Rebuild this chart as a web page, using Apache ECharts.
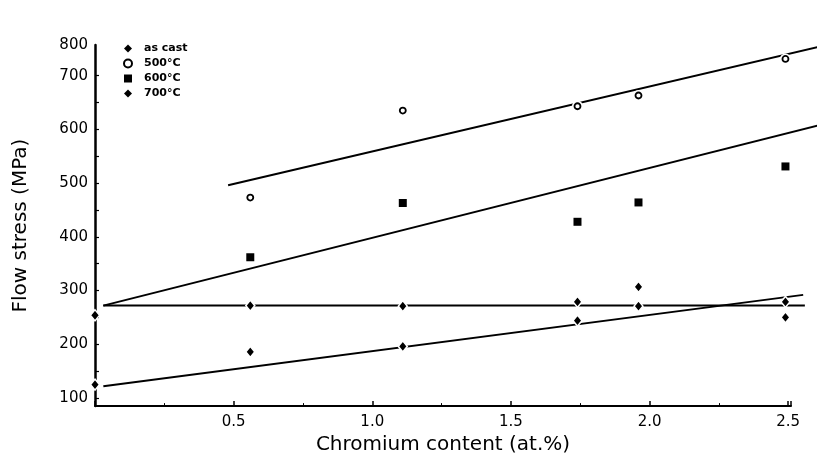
<!DOCTYPE html>
<html><head><meta charset="utf-8">
<script src="https://cdn.jsdelivr.net/npm/echarts@6/dist/echarts.min.js"></script>
<style>html,body{margin:0;padding:0;background:#fff}#c{width:817px;height:460px}</style>
</head><body><div id="c"></div>
<script>
// ---- data ----
const seriesNames = ['as cast', '500°C', '600°C', '700°C'];
const crAsCast = [0, 0.56, 1.11, 1.74, 1.96, 2.49];
const asCast   = [254, 272, 271, 279, 271, 279];
const cr500    = [0.56, 1.11, 1.74, 1.96, 2.49];
const t500     = [473, 635, 643, 663, 731];
const cr600    = [0.56, 1.11, 1.74, 1.96, 2.49];
const t600     = [362, 463, 428, 464, 531];
const cr700    = [0, 0.56, 1.11, 1.74, 1.96, 2.49];
const t700     = [125, 186, 196, 244, 307, 250];
// fitted straight lines (end points)
const fitAsCastX = [0.03, 2.56],  fitAsCastY = [272, 272];
const fit500X    = [0.48, 2.605], fit500Y    = [496, 753];
const fit600X    = [0.03, 2.605], fit600Y    = [272, 607];
const fit700X    = [0.03, 2.554], fit700Y    = [122, 292];
// axes
const yTickValues  = [100, 150, 200, 250, 300, 350, 400, 450, 500, 550, 600, 650, 700];
const yLabelValues = [100, 200, 300, 400, 500, 600, 700, 757];
const yLabelText   = ['100', '200', '300', '400', '500', '600', '700', '800'];
const xLabelValues = [0.5, 1.0, 1.5, 2.0, 2.5];

const zip = (xs, ys) => xs.map((x, i) => [x, ys[i]]);
const FONT = 'DejaVu Sans';

function fitLine(xs, ys) {
  return {
    type: 'custom', silent: true, clip: false, z: 2, animation: false,
    data: [[xs[0], ys[0], xs[1], ys[1]]],
    encode: { x: [0, 2], y: [1, 3] },
    renderItem: (params, api) => {
      const p0 = api.coord([api.value(0), api.value(1)]);
      const p1 = api.coord([api.value(2), api.value(3)]);
      return { type: 'line', shape: { x1: p0[0], y1: p0[1], x2: p1[0], y2: p1[1] },
        style: { stroke: '#000', lineWidth: 2, fill: null } };
    }
  };
}

const chart = echarts.init(document.getElementById('c'), null, { renderer: 'canvas' });
chart.setOption({
  animation: false,
  backgroundColor: '#fff',
  grid: { left: 95, right: 26, top: 45, bottom: 52, containLabel: false },
  legend: {
    orient: 'vertical', left: 118, top: 37, itemWidth: 8, itemHeight: 8, itemGap: 2,
    selectedMode: false,
    textStyle: { fontFamily: FONT, fontSize: 11, fontWeight: 'bold', color: '#000', lineHeight: 13, padding: [0, 0, 0, 7] },
    data: [
      { name: seriesNames[0], itemStyle: { borderWidth: 0, opacity: 1 } },
      { name: seriesNames[1], itemStyle: { opacity: 1 } },
      { name: seriesNames[2], itemStyle: { opacity: 1 } },
      { name: seriesNames[3], itemStyle: { borderWidth: 0, opacity: 1 } }
    ]
  },
  xAxis: {
    type: 'value', min: 0, max: 2.51, interval: 0.5,
    name: 'Chromium content (at.%)', nameLocation: 'middle', nameGap: 23,
    nameTextStyle: { fontFamily: FONT, fontSize: 20, color: '#000' },
    axisLine: { show: true, lineStyle: { color: '#000', width: 2 } },
    axisTick: { show: true, inside: true, length: 5, lineStyle: { color: '#000', width: 1.5 } },
    minorTick: { show: true, splitNumber: 2, length: 3, lineStyle: { color: '#000', width: 1 } },
    axisLabel: { margin: 9, fontFamily: FONT, fontSize: 15, color: '#000',
      customValues: xLabelValues, formatter: v => v.toFixed(1) },
    splitLine: { show: false }, minorSplitLine: { show: false }
  },
  yAxis: {
    type: 'value', min: 85, max: 757,
    name: 'Flow stress (MPa)', nameLocation: 'middle', nameGap: 64,
    nameTextStyle: { fontFamily: FONT, fontSize: 20, color: '#000' },
    axisLine: { show: true, lineStyle: { color: '#000', width: 2.5 } },
    axisTick: { show: true, inside: true, length: 4, customValues: yTickValues,
      lineStyle: { color: '#000', width: 1.2 } },
    axisLabel: { margin: 7, fontFamily: FONT, fontSize: 15, color: '#000',
      customValues: yLabelValues,
      formatter: v => { const i = yLabelValues.indexOf(v); return i >= 0 ? yLabelText[i] : ''; } },
    splitLine: { show: false }
  },
  series: [
    fitLine(fitAsCastX, fitAsCastY),
    fitLine(fit500X, fit500Y),
    fitLine(fit600X, fit600Y),
    fitLine(fit700X, fit700Y),
    { type: 'scatter', data: zip(cr500, t500), symbol: 'circle', symbolSize: 11, silent: true,
      itemStyle: { color: '#fff', opacity: 1 }, z: 3 },
    { name: seriesNames[0], type: 'scatter', data: zip(crAsCast, asCast), symbol: 'diamond',
      symbolSize: [9, 11], itemStyle: { color: '#000', borderColor: '#fff', borderWidth: 1.5, opacity: 1 }, z: 4,
      emphasis: { disabled: true } },
    { name: seriesNames[1], type: 'scatter', data: zip(cr500, t500), symbol: 'circle',
      symbolSize: 6, itemStyle: { color: '#fff', borderColor: '#000', borderWidth: 1.8, opacity: 1 }, z: 4,
      emphasis: { disabled: true } },
    { name: seriesNames[2], type: 'scatter', data: zip(cr600, t600), symbol: 'rect',
      symbolSize: 8, itemStyle: { color: '#000', opacity: 1 }, z: 4, emphasis: { disabled: true } },
    { name: seriesNames[3], type: 'scatter', data: zip(cr700, t700), symbol: 'diamond',
      symbolSize: [9, 11], itemStyle: { color: '#000', borderColor: '#fff', borderWidth: 1.5, opacity: 1 }, z: 4,
      emphasis: { disabled: true } }
  ]
});
</script>
</body></html>
